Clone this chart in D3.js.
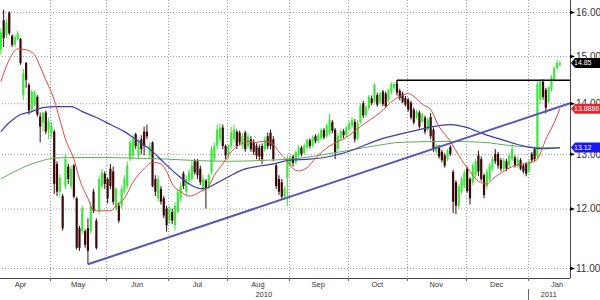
<!DOCTYPE html>
<html>
<head>
<meta charset="utf-8">
<script src="https://cdn.jsdelivr.net/npm/d3@7"></script>
<style>
  body { margin: 0; background: #fff; }
  svg { display: block; }
</style>
</head>
<body>
<svg id="chart" width="600" height="300"></svg>
<script>
const svg = d3.select('#chart')
const plotRight = 570
const plotBottom = 278
const textColor = '#333'
const upColor = '#3de63d'
const downColor = '#3a0a0a'
const font = '"Liberation Sans", Arial, sans-serif'

// axis ticks / labels
const priceTicks = [11, 12, 13, 14, 15, 16]
const monthNames = ['Apr', 'May', 'Jun', 'Jul', 'Aug', 'Sep', 'Oct', 'Nov', 'Dec', 'Jan']
const holidays = ['2010-05-31', '2010-07-05', '2010-09-06', '2010-11-25', '2010-12-24', '2011-01-17']

// daily candles [open, high, low, close], 2010-04-07 .. 2011-01-19
const candles = [
  // Apr
  [15.14,15.62,15.03,15.53],[15.81,16.05,15.20,15.40],[15.47,15.85,15.40,15.76],[15.98,16.02,15.47,15.51],
  [15.45,15.49,15.20,15.25],[15.25,15.47,15.20,15.42],[15.38,15.56,15.34,15.51],[15.38,15.40,14.81,14.85],
  [14.17,14.72,14.07,14.63],[14.85,14.87,14.32,14.49],[14.38,14.42,13.77,13.85],[13.87,14.28,13.81,14.24],
  [13.97,14.26,13.93,14.22],[14.13,14.17,13.73,13.77],[13.73,13.81,13.22,13.53],[13.61,13.83,13.43,13.81],
  [13.81,13.85,13.38,13.43],[13.47,13.71,13.28,13.63],
  // May
  [13.40,13.62,13.30,13.55],[13.43,13.47,12.26,12.44],[12.81,12.86,12.22,12.30],[12.30,12.62,12.20,12.55],
  [12.22,12.26,11.62,11.66],[12.40,13.00,12.35,12.90],[12.76,12.81,12.44,12.53],[12.40,12.78,12.35,12.72],
  [12.78,12.81,12.18,12.21],[12.18,12.21,11.30,11.33],[11.66,11.70,11.28,11.33],[11.61,12.05,11.56,12.00],
  [11.61,11.64,11.33,11.38],[11.66,11.83,11.06,11.28],[11.61,12.11,11.56,12.04],[12.30,12.35,11.92,11.96],
  [11.79,11.83,11.30,11.33],[11.96,12.60,11.90,12.53],[12.40,12.72,12.35,12.65],[12.63,12.67,12.35,12.44],
  // Jun
  [12.53,12.56,12.09,12.18],[12.72,12.81,12.35,12.40],[12.67,12.76,12.07,12.12],[12.00,12.38,11.96,12.35],
  [12.05,12.11,11.75,11.79],[12.05,12.40,12.00,12.35],[12.30,12.60,12.26,12.53],[12.40,12.86,12.35,12.78],
  [12.90,13.28,12.86,13.22],[12.97,13.36,12.90,13.28],[13.38,13.41,13.09,13.15],[12.97,13.28,12.90,13.22],
  [13.28,13.36,13.00,13.09],[13.43,13.53,12.97,13.15],[13.43,13.57,13.28,13.34],[12.97,13.22,12.90,13.15],
  [13.22,13.24,12.38,12.40],[12.53,12.60,12.22,12.30],[12.18,12.60,12.12,12.53],[12.35,12.40,12.07,12.12],
  [12.18,12.22,11.83,11.88],[12.00,12.05,11.60,11.71],
  // Jul
  [11.79,12.05,11.73,12.00],[11.94,12.00,11.73,11.79],[11.71,12.11,11.62,12.05],[11.94,12.35,11.92,12.30],
  [12.18,12.47,12.12,12.40],[12.63,12.67,12.35,12.40],[12.30,12.60,12.24,12.53],[12.50,12.72,12.44,12.65],
  [12.53,12.86,12.49,12.78],[12.86,12.90,12.61,12.65],[12.86,12.90,12.53,12.60],[12.72,12.78,12.42,12.47],
  [12.35,12.60,12.30,12.53],[12.50,12.53,12.00,12.35],[12.40,12.63,12.35,12.60],[12.65,13.15,12.61,13.09],
  [12.90,13.22,12.86,13.15],[13.15,13.57,13.09,13.47],[13.28,13.59,13.22,13.51],[13.51,13.57,13.09,13.15],
  [13.15,13.18,12.90,12.97],
  // Aug
  [12.97,13.18,12.90,13.15],[13.15,13.53,13.09,13.41],[13.28,13.57,13.22,13.47],[13.43,13.47,13.09,13.15],
  [13.41,13.45,13.16,13.22],[13.15,13.40,13.09,13.34],[13.41,13.45,13.04,13.09],[13.15,13.40,13.11,13.34],
  [13.28,13.34,13.04,13.09],[13.22,13.28,12.98,13.04],[13.15,13.20,12.90,12.97],[13.12,13.18,12.88,12.95],
  [13.15,13.20,12.81,12.90],[13.09,13.34,13.04,13.28],[13.34,13.41,13.09,13.15],[13.41,13.47,13.09,13.15],
  [13.28,13.34,12.86,12.90],[12.78,12.81,12.35,12.40],[12.53,12.60,12.24,12.30],[12.47,12.53,12.15,12.21],
  [12.21,12.40,12.15,12.35],[12.55,12.97,12.04,12.92],
  // Sep
  [12.81,12.97,12.76,12.93],[12.95,12.98,12.76,12.83],[12.84,13.07,12.80,13.03],[12.97,13.17,12.93,13.12],
  [13.12,13.15,12.95,13.00],[13.02,13.20,12.98,13.16],[13.12,13.30,13.08,13.27],[13.26,13.30,13.10,13.15],
  [13.16,13.36,13.12,13.32],[13.34,13.38,13.20,13.24],[13.24,13.40,13.20,13.36],[13.30,13.50,13.26,13.46],
  [13.46,13.50,13.28,13.32],[13.34,13.58,13.30,13.55],[13.40,13.79,13.36,13.67],[13.62,13.66,13.40,13.45],
  [13.47,13.50,12.90,13.02],[13.10,13.40,13.05,13.34],[13.30,13.47,13.26,13.44],[13.44,13.48,13.30,13.36],
  [13.36,13.55,13.32,13.51],
  // Oct
  [13.48,13.64,13.44,13.60],[13.55,13.72,13.50,13.66],[13.62,13.68,13.22,13.28],[13.30,13.66,13.26,13.60],
  [13.62,14.00,13.58,13.95],[14.00,14.05,13.70,13.75],[13.76,13.96,13.72,13.92],[13.90,14.17,13.86,14.13],
  [14.10,14.16,13.96,14.00],[14.03,14.42,13.98,14.38],[14.17,14.22,13.93,13.97],[14.02,14.24,13.98,14.20],
  [14.24,14.28,13.94,13.98],[14.20,14.24,13.90,13.94],[14.06,14.30,14.02,14.26],[14.22,14.44,14.18,14.40],
  [14.32,14.44,14.28,14.40],[14.40,14.48,14.16,14.22],[14.26,14.30,14.06,14.11],[14.20,14.24,14.00,14.03],
  [14.11,14.15,13.93,13.97],
  // Nov
  [14.07,14.11,13.83,13.87],[14.01,14.05,13.67,13.71],[13.87,13.91,13.57,13.61],[13.71,13.87,13.67,13.83],
  [13.81,13.85,13.49,13.53],[13.63,13.81,13.59,13.77],[13.71,13.75,13.38,13.43],[13.47,13.71,13.43,13.67],
  [13.72,13.80,13.28,13.34],[13.47,13.51,13.04,13.09],[13.04,13.20,13.00,13.15],[13.13,13.17,12.91,12.95],
  [13.04,13.08,12.84,12.88],[12.97,13.01,12.74,12.78],[12.90,13.10,12.86,13.06],[13.13,13.17,12.96,13.00],
  [12.66,12.70,11.92,12.12],[12.47,12.51,11.90,12.05],[12.05,12.44,12.00,12.40],[12.30,12.57,12.26,12.53],
  [12.40,12.69,12.36,12.65],
  // Dec
  [12.72,12.76,12.28,12.31],[12.53,12.56,12.07,12.18],[12.47,12.83,12.42,12.78],[12.60,12.90,12.56,12.86],
  [12.97,13.06,12.58,12.67],[12.90,12.95,12.49,12.53],[12.60,12.63,12.18,12.24],[12.40,12.72,12.35,12.67],
  [12.53,12.83,12.49,12.78],[12.72,12.95,12.67,12.90],[13.00,13.09,12.81,12.86],[13.00,13.04,12.72,12.78],
  [12.88,12.92,12.67,12.72],[12.72,12.92,12.67,12.88],[12.86,12.90,12.68,12.72],[12.78,13.02,12.74,12.97],
  [12.90,13.18,12.86,13.09],[12.93,12.97,12.74,12.78],[12.78,12.95,12.74,12.90],[12.88,12.92,12.69,12.72],
  [12.78,12.81,12.63,12.67],[12.81,12.84,12.58,12.63],
  // Jan
  [12.67,12.90,12.63,12.86],[13.00,13.04,12.84,12.88],[13.09,13.13,12.86,12.90],[12.95,14.46,12.90,14.40],
  [14.07,14.50,13.99,14.45],[14.45,14.50,14.07,14.13],[14.28,14.32,13.79,13.91],[14.03,14.36,13.99,14.32],
  [14.28,14.59,14.24,14.55],[14.49,14.79,14.45,14.74],[14.74,14.92,14.70,14.85],[14.81,14.90,14.77,14.85]
]

// moving averages: [trading day, value]
const redMA = [
  [0,14.45],[3,14.92],[6,15.16],[9,15.14],[12,15.03],[14,14.77],[16,14.49],[19,14.07],[21,13.67],
  [23,13.28],[26,12.90],[28,12.53],[31,12.18],[33,11.97],[35,11.96],[39,11.96],[41,12.05],[44,12.18],
  [47,12.47],[51,12.72],[54,12.84],[57,12.81],[59,12.67],[61,12.44],[64,12.30],[67,12.22],[71,12.30],
  [74,12.40],[76,12.60],[79,12.81],[82,13.04],[85,13.18],[88,13.24],[91,13.22],[93,13.24],[96,13.22],
  [99,13.04],[102,12.86],[104,12.72],[106,12.68],[109,12.74],[112,12.92],[117,13.15],[123,13.32],
  [128,13.53],[135,13.81],[140,14.07],[143,14.17],[145,14.20],[147,14.14],[150,13.98],[153,13.87],
  [156,13.53],[160,13.24],[163,12.97],[167,12.67],[170,12.49],[173,12.44],[175,12.53],[179,12.67],
  [182,12.76],[186,12.81],[189,12.84],[191,12.90],[194,13.28],[197,13.61],[199,13.8886]
]
const blueMA = [
  [0,13.43],[3,13.61],[7,13.77],[11,13.83],[15,13.91],[20,13.93],[25,13.93],[29,13.83],[34,13.71],
  [39,13.57],[44,13.43],[48,13.28],[53,13.09],[58,12.84],[63,12.60],[67,12.44],[72,12.35],[77,12.46],
  [82,12.60],[86,12.70],[91,12.76],[96,12.80],[103,12.88],[110,12.90],[117,12.95],[124,13.05],
  [135,13.28],[142,13.38],[149,13.47],[156,13.55],[160,13.57],[166,13.51],[172,13.38],[178,13.28],
  [184,13.18],[188,13.13],[192,13.10],[199,13.12]
]
const greenMA = [
  [0,12.53],[5,12.67],[9,12.77],[14,12.86],[19,12.92],[26,12.93],[35,12.93],[47,12.92],[59,12.90],
  [71,12.87],[83,12.86],[95,12.88],[103,12.90],[121,13.04],[135,13.17],[142,13.22],[160,13.24],
  [172,13.22],[181,13.16],[188,13.13],[199,13.11]
]

// trend line from the May low, horizontal line from the October high
const trendLine = [[31, 11.06], [202.6, 14.0]]
const resistance = { day: 141, value: 14.48 }

// trading days (x categories)
const fmtDay = d3.timeFormat('%Y-%m-%d')
const days = d3.timeDay.range(new Date(2010, 3, 7), new Date(2011, 0, 20))
  .filter(d => d.getDay() % 6 !== 0 && !holidays.includes(fmtDay(d)))

const data = candles.map((c, i) => ({ i, date: days[i], open: c[0], high: c[1], low: c[2], close: c[3] }))

const xScale = d3.scaleLinear()
  .domain([-0.3, 202.6])
  .range([0, plotRight])

const yScale = d3.scaleLog()
  .domain([11, 16])
  .range([268, 12])

// month boundaries
const monthStarts = days.map((d, i) => i).filter(i => i > 0 && days[i].getMonth() !== days[i - 1].getMonth())
const gridX = monthStarts.map(i => xScale(i - 0.5))

// horizontal grid
const yGrid = svg.append('g')
  .attr('transform', `translate(${plotRight},0)`)
  .call(d3.axisLeft(yScale).tickValues(priceTicks).tickSize(plotRight).tickFormat(''))
yGrid.select('.domain').remove()
yGrid.selectAll('.tick line')
  .attr('stroke', '#9a9a9a')
  .attr('stroke-dasharray', '1,2')

// vertical grid at month starts
svg.append('g')
  .selectAll('line')
  .data(gridX)
  .join('line')
  .attr('x1', d => Math.round(d) + 0.5)
  .attr('x2', d => Math.round(d) + 0.5)
  .attr('y1', 0)
  .attr('y2', plotBottom)
  .attr('stroke', '#9a9a9a')
  .attr('stroke-dasharray', '1,2')

// candles
const candleG = svg.append('g')
candleG.selectAll('line')
  .data(data)
  .join('line')
  .attr('x1', d => xScale(d.i))
  .attr('x2', d => xScale(d.i))
  .attr('y1', d => yScale(d.high))
  .attr('y2', d => yScale(d.low))
  .attr('stroke', d => d.close >= d.open ? upColor : downColor)
  .attr('stroke-width', 1)

candleG.selectAll('rect')
  .data(data)
  .join('rect')
  .attr('x', d => xScale(d.i) - 1.1)
  .attr('width', 2.2)
  .attr('y', d => yScale(Math.max(d.open, d.close)))
  .attr('height', d => Math.max(1, Math.abs(yScale(d.open) - yScale(d.close))))
  .attr('fill', d => d.close >= d.open ? upColor : downColor)

// moving averages
const maLine = d3.line()
  .x(d => xScale(d[0]))
  .y(d => yScale(d[1]))
  .curve(d3.curveMonotoneX)

svg.append('path').attr('d', maLine(greenMA)).attr('fill', 'none').attr('stroke', '#5fae55').attr('stroke-width', 1)
svg.append('path').attr('d', maLine(blueMA)).attr('fill', 'none').attr('stroke', '#3b3bb0').attr('stroke-width', 1.2)
svg.append('path').attr('d', maLine(redMA)).attr('fill', 'none').attr('stroke', '#e0463c').attr('stroke-width', 1)

// trend line
svg.append('path')
  .attr('d', d3.line().x(d => xScale(d[0])).y(d => yScale(d[1]))(trendLine))
  .attr('fill', 'none')
  .attr('stroke', '#5656b8')
  .attr('stroke-width', 2)

// horizontal line at the October high
const resY = yScale(resistance.value)
svg.append('line')
  .attr('x1', xScale(resistance.day)).attr('x2', plotRight)
  .attr('y1', resY).attr('y2', resY)
  .attr('stroke', '#000').attr('stroke-width', 1.5)
svg.append('line')
  .attr('x1', xScale(resistance.day)).attr('x2', xScale(resistance.day))
  .attr('y1', resY).attr('y2', resY + 6)
  .attr('stroke', '#000').attr('stroke-width', 1)

// axis frame
svg.append('line')
  .attr('x1', plotRight + 0.5).attr('x2', plotRight + 0.5)
  .attr('y1', 0).attr('y2', plotBottom)
  .attr('stroke', '#444')
svg.append('line')
  .attr('x1', 0).attr('x2', plotRight)
  .attr('y1', plotBottom + 0.5).attr('y2', plotBottom + 0.5)
  .attr('stroke', '#444')

// right price axis
const yAxis = svg.append('g')
  .attr('transform', `translate(${plotRight},0)`)
  .attr('font-family', font)
  .attr('font-size', 7.5)
  .call(d3.axisRight(yScale).tickValues(priceTicks).tickFormat(d3.format('.2f')).tickSize(0).tickPadding(6))
yAxis.select('.domain').remove()
yAxis.selectAll('.tick text').attr('fill', textColor)
yAxis.selectAll('.tick').append('path')
  .attr('d', 'M0,-2L5,0L0,2Z')
  .attr('fill', '#000')

// month ticks and labels
svg.append('g')
  .selectAll('line')
  .data(gridX)
  .join('line')
  .attr('x1', d => Math.round(d) + 0.5)
  .attr('x2', d => Math.round(d) + 0.5)
  .attr('y1', plotBottom)
  .attr('y2', plotBottom + 3)
  .attr('stroke', '#666')

const monthEdges = [xScale(monthStarts[0] - 0.5 - 21), ...gridX, xScale(monthStarts[monthStarts.length - 1] - 0.5 + 21)]
svg.append('g')
  .selectAll('text')
  .data(monthNames)
  .join('text')
  .attr('x', (d, i) => (monthEdges[i] + monthEdges[i + 1]) / 2)
  .attr('y', 287)
  .attr('text-anchor', 'middle')
  .attr('font-family', font)
  .attr('font-size', 7.5)
  .attr('fill', textColor)
  .text(d => d)

// year labels
const janX = gridX[gridX.length - 1]
const years = [{ text: '2010', x: janX / 2 }, { text: '2011', x: (janX + plotRight) / 2 }]
svg.append('g')
  .selectAll('text')
  .data(years)
  .join('text')
  .attr('x', d => d.x)
  .attr('y', 297)
  .attr('text-anchor', 'middle')
  .attr('font-family', font)
  .attr('font-size', 7.5)
  .attr('fill', textColor)
  .text(d => d.text)

svg.append('line')
  .attr('x1', Math.round(janX) + 0.5).attr('x2', Math.round(janX) + 0.5)
  .attr('y1', 289).attr('y2', 300)
  .attr('stroke', '#666')

// last value tags on the right
const last = data[data.length - 1]
const tags = [
  { value: last.close, text: d3.format('.2f')(last.close), color: '#000' },
  { value: redMA[redMA.length - 1][1], text: String(redMA[redMA.length - 1][1]), color: '#e3262b' },
  { value: blueMA[blueMA.length - 1][1], text: d3.format('.2f')(blueMA[blueMA.length - 1][1]), color: '#1a1af0' }
]
const tagG = svg.append('g')
  .selectAll('g')
  .data(tags)
  .join('g')
  .attr('transform', d => `translate(${plotRight},${yScale(d.value)})`)
tagG.append('path')
  .attr('d', 'M1,0L5,-5H30V5H5Z')
  .attr('fill', d => d.color)
tagG.append('text')
  .attr('x', 4)
  .attr('dy', '0.35em')
  .attr('font-family', font)
  .attr('font-size', 7)
  .attr('fill', '#fff')
  .text(d => d.text)
</script>
</body>
</html>
